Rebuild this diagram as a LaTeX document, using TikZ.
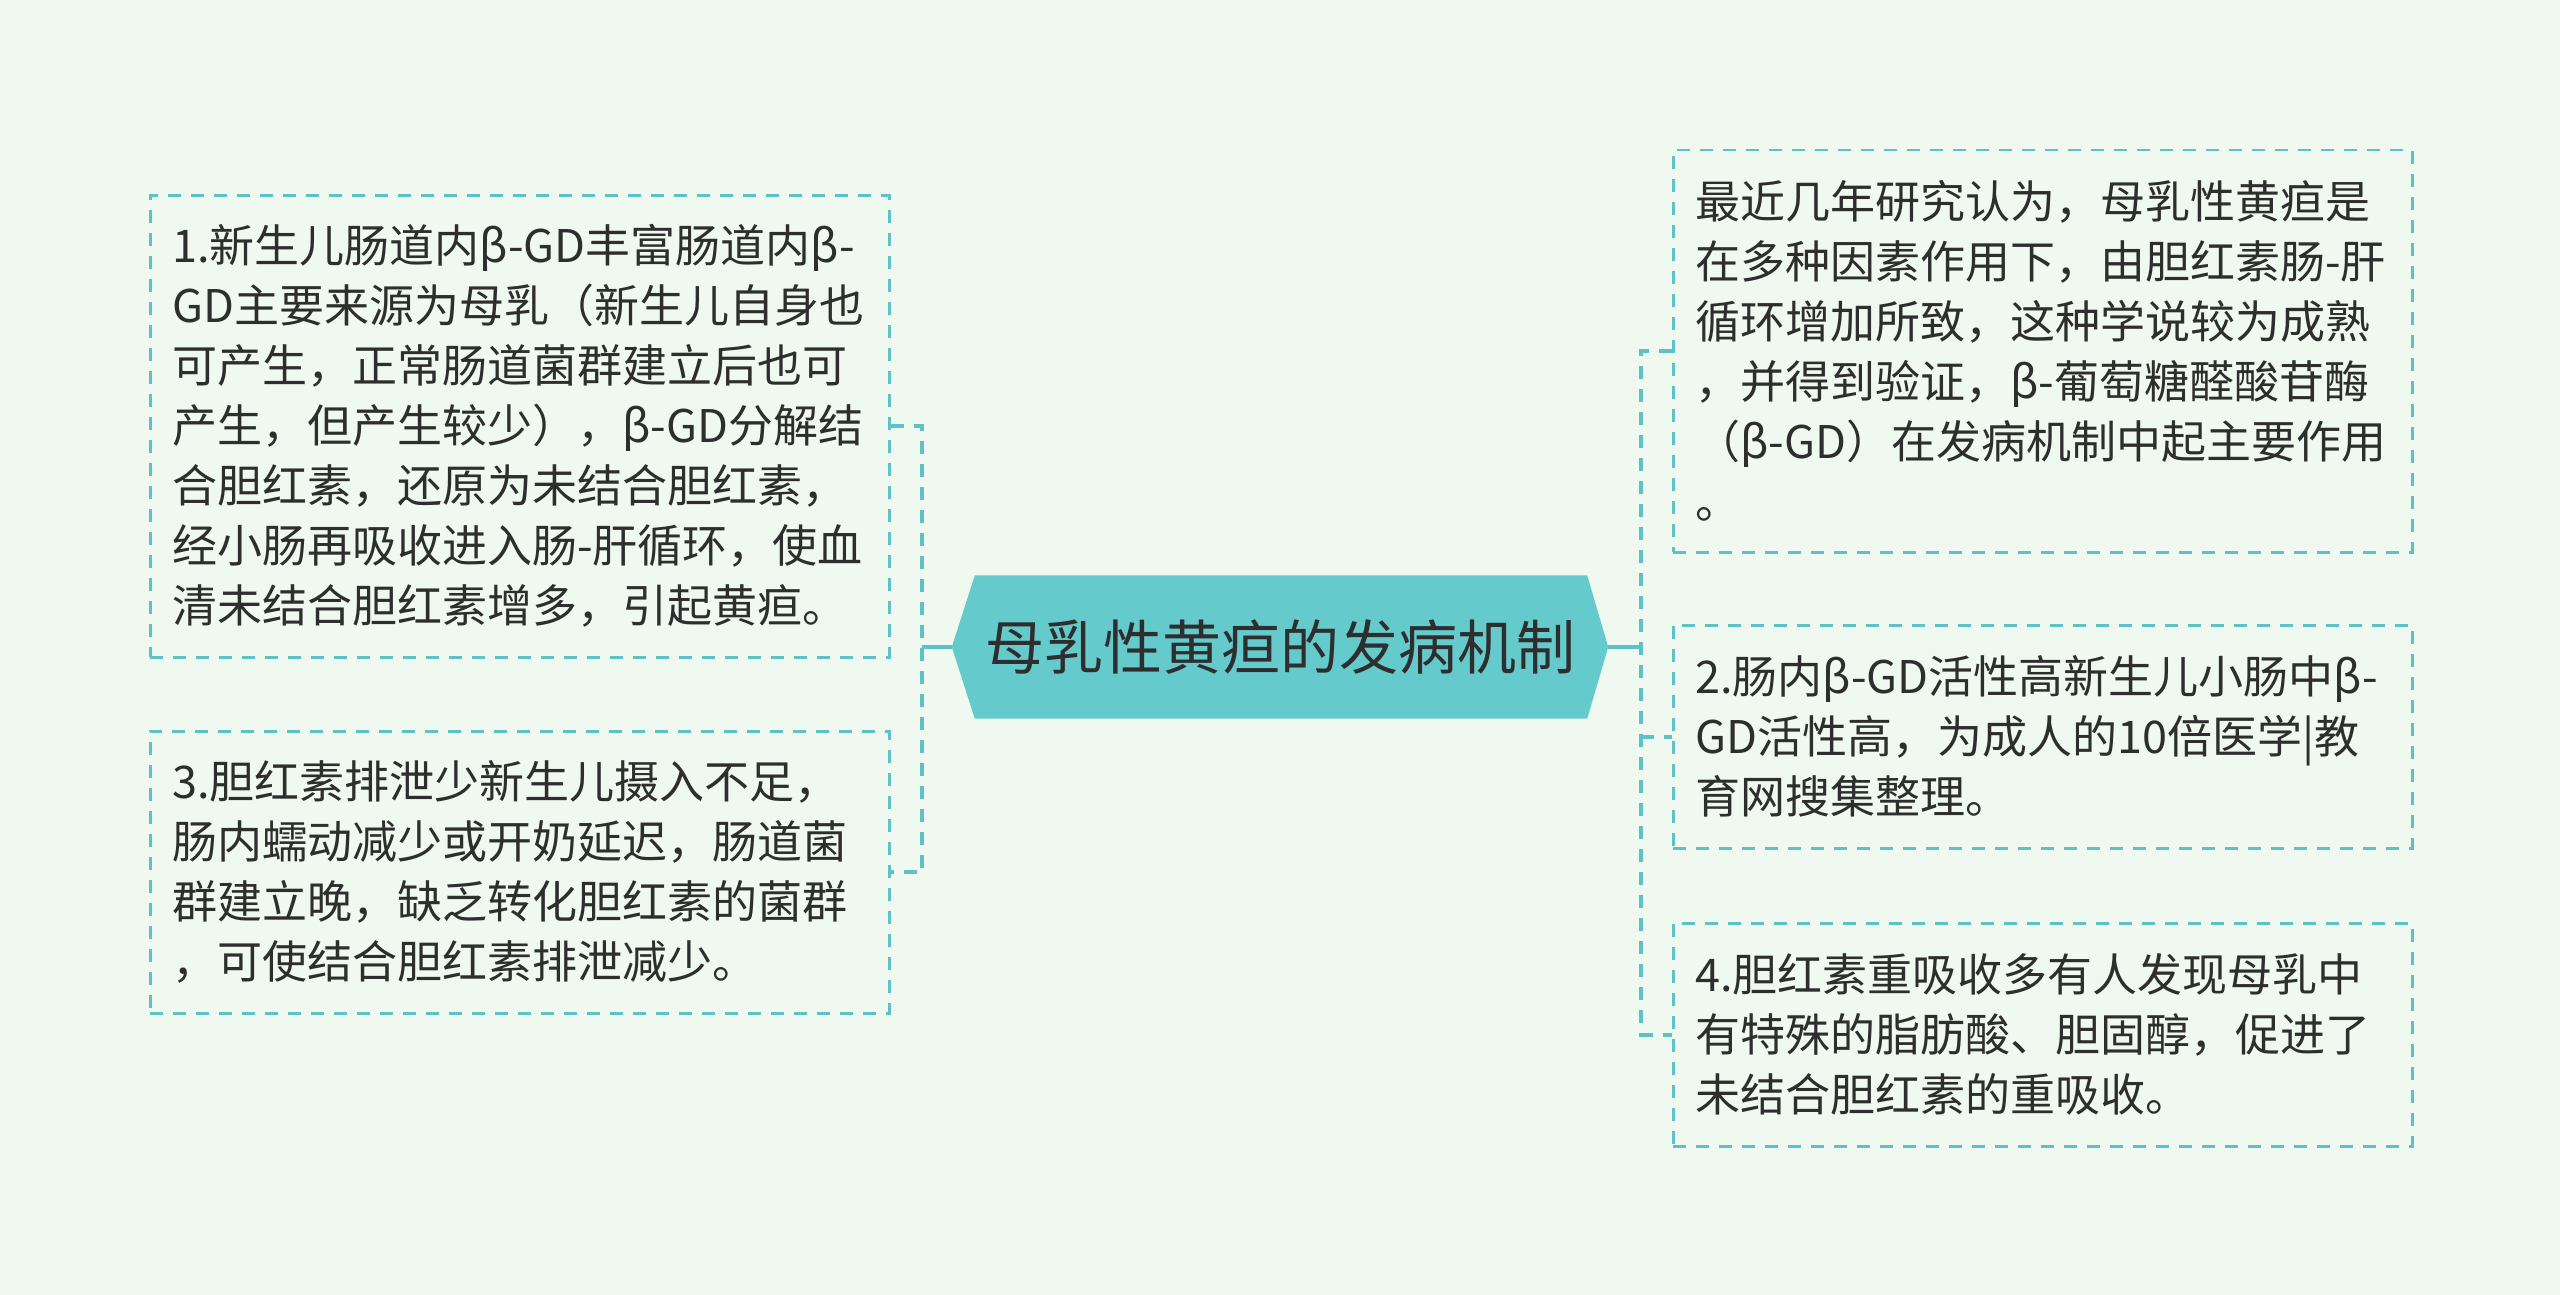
\documentclass[tikz,border=0pt]{standalone}
\usepackage{fontspec}
\setmainfont{Noto Sans CJK SC}
\usetikzlibrary{calc}
\definecolor{bgc}{HTML}{F0F9EF}
\definecolor{tealc}{HTML}{5EC1C6}
\definecolor{hexc}{HTML}{65CACB}
\definecolor{txtc}{HTML}{2E2E2E}
\begin{document}
\begin{tikzpicture}[x=1pt,y=-1pt,
  leaf/.style={draw=tealc, line width=2.5pt, dash pattern=on 13pt off 10pt,
    inner xsep=22pt, inner ysep=0pt, text width=695pt, align=left,
    anchor=north west, font=\fontsize{45}{60}\selectfont, text=txtc},
  conn/.style={draw=tealc, line width=4pt, dash pattern=on 13pt off 10pt},
  connsolid/.style={draw=tealc, line width=4pt},
]
\fill[bgc] (0,0) rectangle (2560,1295);
\useasboundingbox (0,0) rectangle (2560,1295);

% center node
\node[minimum width=656pt, minimum height=143pt, inner sep=0pt] (c) at (1280,647) {};
\fill[hexc] (c.west) -- ($(c.north west)+(23,0)$) -- ($(c.north east)+(-21,0)$)
  -- (c.east) -- ($(c.south east)+(-21,0)$) -- ($(c.south west)+(23,0)$) -- cycle;
\node[font=\fontsize{59}{70}\selectfont, text=txtc] (ct) at (c.center) {母乳性黄疸的发病机制};

% left boxes
\node[leaf, minimum height=462pt] (b1) at (149,194) {1.新生儿肠道内β-GD丰富肠道内β-\\GD主要来源为母乳（新生儿自身也\\可产生，正常肠道菌群建立后也可\\产生，但产生较少），β-GD分解结\\合胆红素，还原为未结合胆红素，\\经小肠再吸收进入肠-肝循环，使血\\清未结合胆红素增多，引起黄疸。};
\node[leaf, minimum height=282pt] (b3) at (149,730) {3.胆红素排泄少新生儿摄入不足，\\肠内蠕动减少或开奶延迟，肠道菌\\群建立晚，缺乏转化胆红素的菌群\\，可使结合胆红素排泄减少。};

% right boxes
\node[leaf, minimum height=402pt] (r1) at (1672,149) {最近几年研究认为，母乳性黄疸是\\在多种因素作用下，由胆红素肠-肝\\循环增加所致，这种学说较为成熟\\，并得到验证，β-葡萄糖醛酸苷酶\\（β-GD）在发病机制中起主要作用\\。};
\node[leaf, minimum height=223pt] (r2) at (1672,624) {2.肠内β-GD活性高新生儿小肠中β-\\GD活性高，为成人的10倍医学|教\\育网搜集整理。};
\node[leaf, minimum height=223pt] (r4) at (1672,922) {4.胆红素重吸收多有人发现母乳中\\有特殊的脂肪酸、胆固醇，促进了\\未结合胆红素的重吸收。};

% connectors left
\coordinate (jl) at (922,647);
\draw[connsolid] (c.west) -- (jl);
\draw[conn] (b1.east) -- (jl |- b1.east) -- (jl |- b3.east) -- (b3.east);

% connectors right
\coordinate (jr) at (1641,647);
\draw[connsolid] (c.east) -- (jr);
\draw[conn] (r1.west) -- (jr |- r1.west) -- (jr |- r4.west) -- (r4.west);
\draw[conn] (jr |- r2.west) -- (r2.west);
\end{tikzpicture}
\end{document}
